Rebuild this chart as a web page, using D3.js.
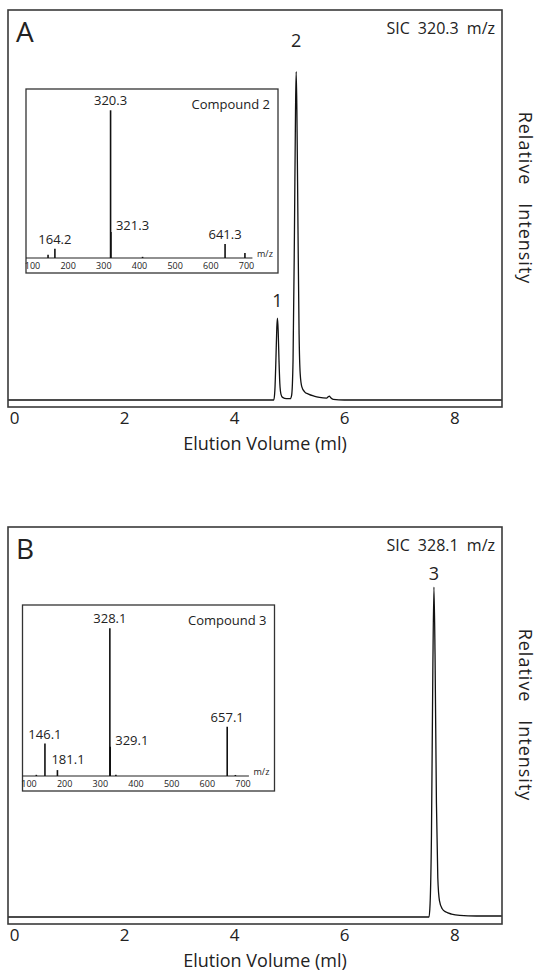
<!DOCTYPE html>
<html>
<head>
<meta charset="utf-8">
<script src="https://cdn.jsdelivr.net/npm/d3@7"></script>
<style>
  body { margin: 0; background: #fff; }
  svg { display: block; font-family: "Open Sans", sans-serif; }
</style>
</head>
<body>
<svg id="chart" width="539" height="971"></svg>
<script>
// --- data ---
var volumeTicks = [0, 2, 4, 6, 8];
var massTicks = [100, 200, 300, 400, 500, 600, 700];

// SIC traces: [elution volume (ml), relative intensity (%)]
var traceA = [[-0.11, 0], [4.72, 0], [4.74, 3], [4.76, 13], [4.775, 22], [4.787, 24.9], [4.80, 21],
    [4.815, 12], [4.83, 5], [4.85, 1.8], [4.88, 0.8], [4.95, 0.4], [5.02, 0.4], [5.045, 1.5],
    [5.07, 12], [5.095, 50], [5.115, 88], [5.127, 100], [5.14, 88], [5.16, 52], [5.18, 20],
    [5.20, 8], [5.23, 4], [5.28, 2.5], [5.35, 1.8], [5.45, 1.2], [5.55, 0.8], [5.68, 0.6],
    [5.71, 1.0], [5.73, 1.2], [5.755, 0.7], [5.80, 0.2], [6.0, 0], [8.87, 0]];
var traceB = [[-0.11, 0], [7.54, 0], [7.56, 4], [7.585, 25], [7.61, 75], [7.63, 100.5], [7.65, 80],
    [7.675, 35], [7.70, 12], [7.73, 5], [7.78, 2.5], [7.85, 1.5], [7.95, 0.9], [8.1, 0.5],
    [8.4, 0.3], [8.87, 0.3]];

// labelled chromatogram peaks
var peakNamesA = ["1", "2"];
var peakVolA = [4.787, 5.127];
var peakIntA = [24.9, 100];
var peakNamesB = ["3"];
var peakVolB = [7.63];
var peakIntB = [100.5];

// mass spectra (insets): m/z and relative abundance (%)
var specAmz = [145, 164.2, 320.3, 321.3, 410, 641.3, 697];
var specAint = [2.2, 6.3, 100, 17.6, 0.8, 9.5, 3.4];
var specAlabels = [164.2, 320.3, 321.3, 641.3];
var specBmz = [122, 146.1, 181.1, 328.1, 329.1, 345, 657.1, 680];
var specBint = [0.8, 22, 4, 100, 19.8, 0.9, 33.4, 0.7];
var specBlabels = [146.1, 181.1, 328.1, 329.1, 657.1];

var svg = d3.select("#chart");
var fmt1 = d3.format(".1f");

function drawPanel(p) {
    var g = svg.append("g").attr("transform", "translate(0," + p.dy + ")");

    var x = d3.scaleLinear().domain([0, 8]).range([14, 454.3]);
    var y = d3.scaleLinear().domain([0, 100]).range([400, 71.7]);

    var clipId = "clip" + p.letter;
    g.append("clipPath").attr("id", clipId)
        .append("rect").attr("x", 8).attr("y", 10).attr("width", 494).attr("height", 397);

    g.append("path")
        .datum(p.trace)
        .attr("clip-path", "url(#" + clipId + ")")
        .attr("fill", "none")
        .attr("stroke", "#111")
        .attr("stroke-width", 1.3)
        .attr("d", d3.line()
            .x(function(d) { return x(d[0]); })
            .y(function(d) { return y(d[1]); })
            .curve(d3.curveMonotoneX));

    g.append("rect")
        .attr("x", 8).attr("y", 10).attr("width", 494).attr("height", 397)
        .attr("fill", "none").attr("stroke", "#3a3a3a").attr("stroke-width", 1.6);

    var axis = g.append("g")
        .attr("transform", "translate(0,407)")
        .call(d3.axisBottom(x).tickValues(volumeTicks).tickSize(0).tickPadding(5).tickFormat(d3.format("d")));
    axis.select(".domain").remove();
    axis.attr("font-family", null).attr("font-size", null);
    axis.selectAll("text").attr("font-size", 17).attr("fill", "#222");

    g.append("text")
        .attr("x", 265).attr("y", 450)
        .attr("text-anchor", "middle")
        .attr("font-size", 18).attr("fill", "#222")
        .text("Elution Volume (ml)");

    g.append("text")
        .attr("x", 16).attr("y", 42)
        .attr("font-size", 28).attr("fill", "#222")
        .text(p.letter);

    g.append("text")
        .attr("x", 495).attr("y", 34)
        .attr("text-anchor", "end")
        .attr("font-size", 16).attr("fill", "#222")
        .attr("word-spacing", 4)
        .text(p.sic);

    g.append("text")
        .attr("transform", "translate(519,198) rotate(90)")
        .attr("text-anchor", "middle")
        .attr("font-size", 18).attr("fill", "#222")
        .attr("letter-spacing", 1)
        .attr("word-spacing", 12)
        .text("Relative Intensity");

    // peak numbers
    p.peakNames.forEach(function(name, i) {
        g.append("text")
            .attr("x", x(p.peakVol[i]))
            .attr("y", y(p.peakInt[i]) - p.peakGap[i])
            .attr("text-anchor", "middle")
            .attr("font-size", 18).attr("fill", "#222")
            .text(name);
    });

    drawInset(g, p);
}

function drawInset(g, p) {
    var b = p.inset;
    var ig = g.append("g").attr("transform", "translate(" + b.x + "," + (b.y - p.dy) + ")");
    var base = b.h - 15;

    var mz = d3.scaleLinear().domain([100, 700]).range([6, 220]);
    var ab = d3.scaleLinear().domain([0, 100]).range([base, base - 147.7]);

    ig.append("rect")
        .attr("width", b.w).attr("height", b.h)
        .attr("fill", "#fff").attr("stroke", "#333").attr("stroke-width", 1.3);

    ig.append("line")
        .attr("x1", 0).attr("x2", mz(718))
        .attr("y1", base).attr("y2", base)
        .attr("stroke", "#222").attr("stroke-width", 1.2);

    ig.selectAll("line.stick")
        .data(p.specMz)
        .join("line")
        .attr("class", "stick")
        .attr("x1", function(d) { return mz(d); })
        .attr("x2", function(d) { return mz(d); })
        .attr("y1", base)
        .attr("y2", function(d, i) { return ab(p.specInt[i]); })
        .attr("stroke", "#111").attr("stroke-width", 1.6);

    var ax = ig.append("g")
        .attr("transform", "translate(0," + base + ")")
        .call(d3.axisBottom(mz).tickValues(massTicks).tickSize(0).tickPadding(5));
    ax.select(".domain").remove();
    ax.attr("font-family", null).attr("font-size", null);
    ax.selectAll("text").attr("font-size", 9).attr("fill", "#222");

    ig.append("text")
        .attr("x", 231).attr("y", base - 1)
        .attr("font-size", 9).attr("fill", "#222")
        .text("m/z");

    ig.append("text")
        .attr("x", b.w - 8).attr("y", 20)
        .attr("text-anchor", "end")
        .attr("font-size", 13).attr("fill", "#222")
        .text(p.compound);

    // peak labels: main ion and fragments above, isotope to the right
    p.specLabels.forEach(function(m) {
        var i = p.specMz.indexOf(m);
        var top = ab(p.specInt[i]);
        var t = ig.append("text")
            .attr("font-size", 13).attr("fill", "#222")
            .text(fmt1(m));
        var isIsotope = p.specMz.indexOf(Math.round((m - 1) * 10) / 10) >= 0;
        if (isIsotope) {
            t.attr("x", mz(m) + 5).attr("y", top - 2);
        } else if (p.specInt[i] < 5) {
            t.attr("x", mz(m) - 6).attr("y", top - 6.5);
        } else {
            t.attr("x", mz(m)).attr("y", top - 5).attr("text-anchor", "middle");
        }
    });
}

drawPanel({
    dy: 0, letter: "A", sic: "SIC 320.3 m/z",
    trace: traceA,
    peakNames: peakNamesA, peakVol: peakVolA, peakInt: peakIntA, peakGap: [11, 25],
    inset: {x: 26, y: 89, w: 252, h: 184},
    specMz: specAmz, specInt: specAint, specLabels: specAlabels, compound: "Compound 2"
});

drawPanel({
    dy: 517, letter: "B", sic: "SIC 328.1 m/z",
    trace: traceB,
    peakNames: peakNamesB, peakVol: peakVolB, peakInt: peakIntB, peakGap: [7],
    inset: {x: 22.5, y: 605, w: 252, h: 186},
    specMz: specBmz, specInt: specBint, specLabels: specBlabels, compound: "Compound 3"
});
</script>
</body>
</html>
